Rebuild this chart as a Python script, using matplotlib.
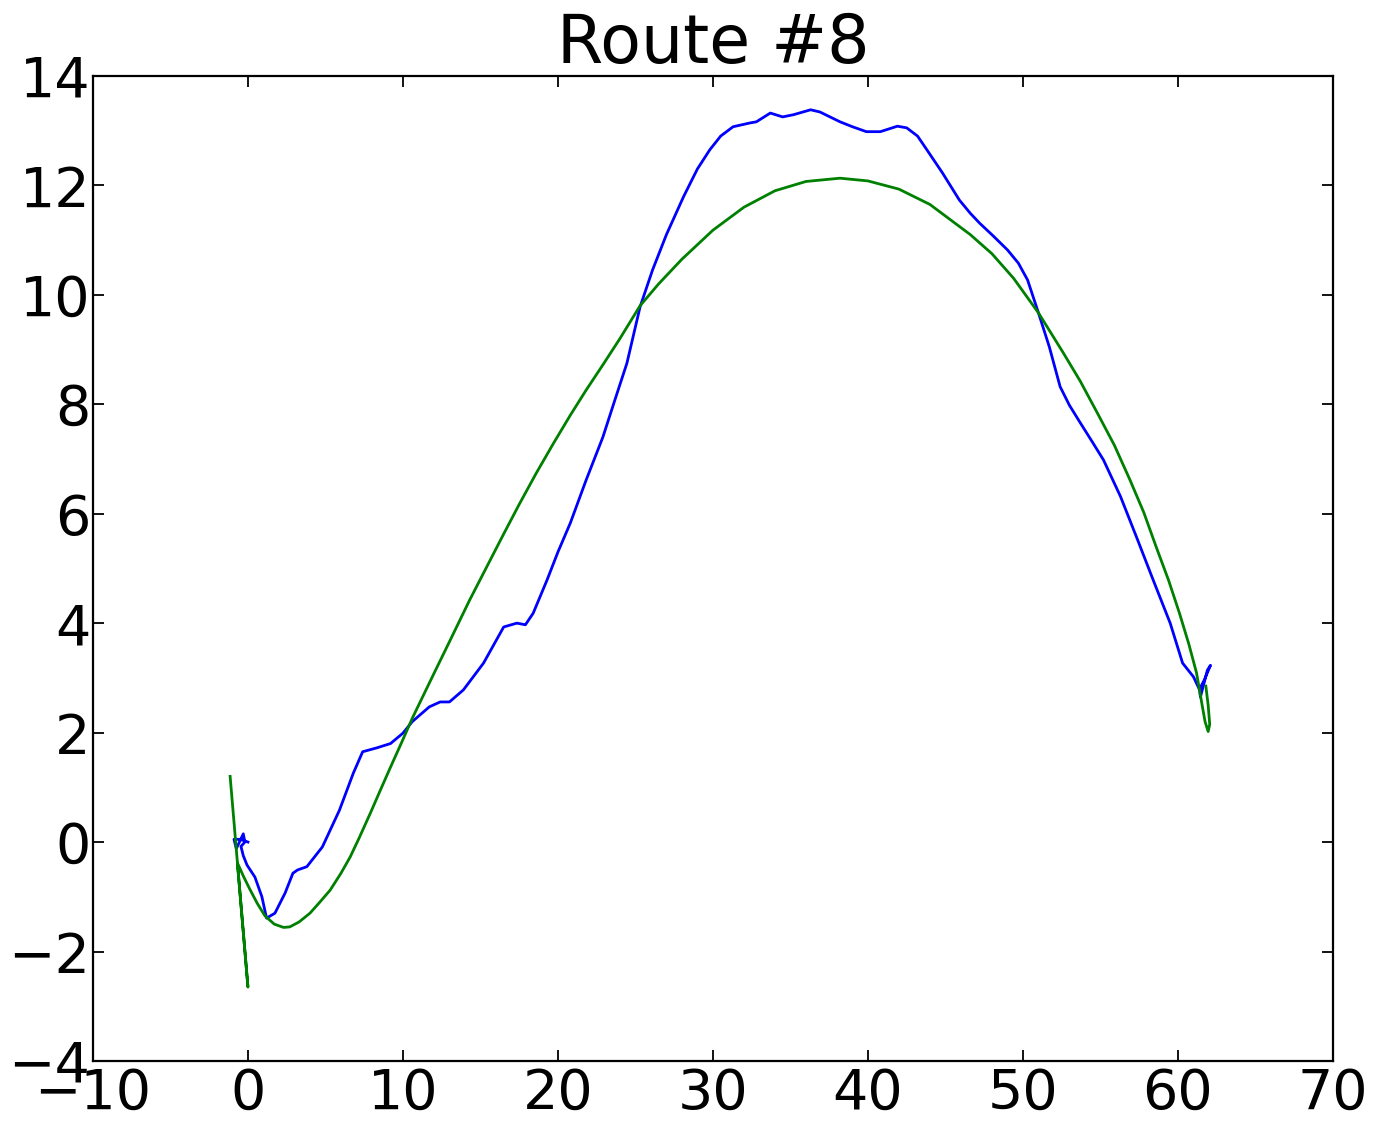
import matplotlib
matplotlib.use('Agg')
import matplotlib.pyplot as plt

# route points (blue)
route_x = [0.0, -0.5, -0.9, -0.75, -0.55, -0.3, -0.2, -0.45, -0.3, -0.06, 0.45, 0.9, 1.2,
           1.74, 2.4, 2.9, 3.2, 3.8, 4.8, 5.9, 6.8, 7.4, 8.3, 9.2, 10.0, 10.6, 11.7, 12.4,
           13.0, 13.9, 15.2, 16.5, 17.35, 17.9, 18.4, 19.3, 20.0, 20.8, 21.8, 22.9, 23.7,
           24.45, 25.3, 26.1, 27.0, 28.1, 29.0, 29.8, 30.5, 31.3, 32.4, 32.8, 33.7, 34.5,
           35.2, 36.3, 36.9, 38.2, 39.0, 39.9, 40.8, 41.9, 42.5, 43.2, 43.8, 44.8, 45.9,
           46.6, 47.2, 48.1, 49.0, 49.7, 50.3, 51.0, 51.7, 52.4, 53.0, 53.7, 54.5, 55.2,
           56.3, 57.4, 58.4, 59.5, 60.3, 61.0, 61.4, 61.45, 61.9, 62.1, 61.7, 61.4]
route_y = [0.0, 0.05, 0.05, -0.12, 0.0, 0.15, 0.0, -0.08, -0.25, -0.42, -0.64, -1.0, -1.39,
           -1.3, -0.93, -0.57, -0.51, -0.45, -0.09, 0.58, 1.26, 1.65, 1.72, 1.8, 1.99, 2.2,
           2.47, 2.56, 2.56, 2.78, 3.27, 3.93, 4.0, 3.97, 4.18, 4.79, 5.3, 5.83, 6.6, 7.4,
           8.1, 8.75, 9.78, 10.45, 11.1, 11.79, 12.3, 12.65, 12.9, 13.07, 13.14, 13.16,
           13.32, 13.25, 13.29, 13.38, 13.34, 13.16, 13.07, 12.98, 12.98, 13.08, 13.05,
           12.9, 12.65, 12.23, 11.73, 11.49, 11.31, 11.07, 10.82, 10.58, 10.27, 9.67, 9.05,
           8.32, 7.98, 7.66, 7.3, 6.98, 6.31, 5.52, 4.79, 4.0, 3.27, 3.02, 2.78, 2.65,
           3.14, 3.23, 2.96, 2.8]

# fitted curve (green)
fit_x = [-1.15, 0.0, -0.68, -0.3, 0.1, 0.6, 1.1, 1.7, 2.3, 2.7, 3.3, 4.0, 4.6, 5.3, 6.0,
         6.6, 7.2, 7.9, 8.5, 9.2, 9.9, 10.6, 12.0, 13.0, 14.3, 15.5, 16.5, 17.5, 18.6,
         19.7, 20.8, 21.8, 22.9, 24.0, 25.3, 26.5, 28.0, 30.0, 32.0, 34.0, 36.0, 38.2,
         40.0, 42.0, 44.0, 46.6, 48.0, 49.4, 51.0, 52.6, 53.7, 54.8, 55.9, 56.9, 57.8,
         58.6, 59.4, 60.1, 60.7, 61.2, 61.5, 61.75, 61.95, 62.05, 61.95, 61.8]
fit_y = [1.2, -2.65, -0.38, -0.62, -0.85, -1.12, -1.35, -1.5, -1.56, -1.55, -1.46, -1.3,
         -1.11, -0.88, -0.57, -0.27, 0.09, 0.53, 0.92, 1.37, 1.81, 2.26, 3.08, 3.66, 4.42,
         5.08, 5.63, 6.17, 6.74, 7.28, 7.8, 8.25, 8.72, 9.2, 9.8, 10.2, 10.65, 11.18, 11.6,
         11.9, 12.07, 12.13, 12.08, 11.93, 11.65, 11.1, 10.75, 10.3, 9.67, 8.94, 8.42,
         7.84, 7.25, 6.62, 6.02, 5.39, 4.78, 4.18, 3.62, 3.09, 2.6, 2.2, 2.02, 2.15, 2.5,
         2.85]

plt.rcParams['font.family'] = 'DejaVu Sans'
plt.rcParams['font.size'] = 40

fig = plt.figure(figsize=(13.77, 11.22), dpi=100)
ax = fig.add_axes([0.0675, 0.0544, 0.9005, 0.878])

ax.plot(route_x, route_y, color='b', linewidth=2.0)
ax.plot(fit_x, fit_y, color='g', linewidth=2.0)

ax.set_xlim(-10, 70)
ax.set_ylim(-4, 14)
ax.set_xticks(range(-10, 71, 10))
ax.set_yticks(range(-4, 15, 2))
ax.tick_params(direction='in', length=8, width=1.3, top=True, right=True,
               labelsize=40)
ax.tick_params(axis='x', pad=4)
ax.tick_params(axis='y', pad=2)
for s in ax.spines.values():
    s.set_linewidth(1.6)

ax.set_title('Route #8', fontsize=48, pad=9)

fig.savefig('out.png', dpi=100)
